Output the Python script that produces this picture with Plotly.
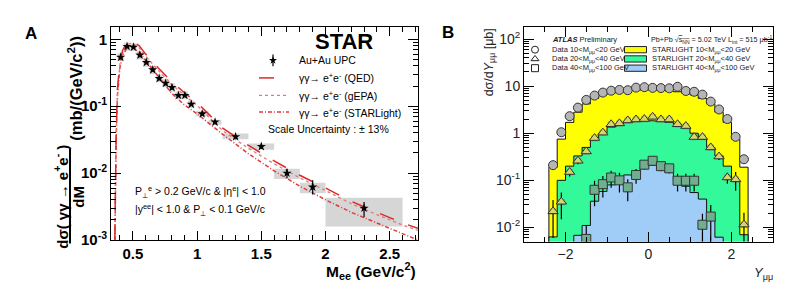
import plotly.graph_objects as go

W, H = 806, 308
FONT = "Liberation Sans, Arial, Helvetica, sans-serif"

# ---------------- Panel A data (STAR) ----------------
mee_pts = [0.405, 0.455, 0.505, 0.555, 0.605, 0.655, 0.705, 0.755, 0.805, 0.855,
           0.905, 0.955, 1.04, 1.14, 1.3, 1.5, 1.7, 1.9, 2.3]
mee_halfw = [0.025] * 12 + [0.05, 0.05, 0.1, 0.1, 0.1, 0.1, 0.3]
xsec = [0.54, 0.78, 0.76, 0.58, 0.45, 0.35, 0.26, 0.22, 0.19, 0.145,
        0.145, 0.107, 0.077, 0.058, 0.035, 0.025, 0.0100, 0.0062, 0.0030]
stat_up = [0.02, 0.03, 0.03, 0.02, 0.015, 0.012, 0.01, 0.008, 0.007, 0.006,
           0.006, 0.005, 0.004, 0.003, 0.002, 0.002, 0.0016, 0.0016, 0.0007]
stat_dn = [0.02, 0.03, 0.03, 0.02, 0.015, 0.012, 0.01, 0.008, 0.007, 0.006,
           0.006, 0.005, 0.004, 0.003, 0.002, 0.002, 0.0016, 0.0014, 0.0008]
sys_lo = [0.47, 0.68, 0.66, 0.50, 0.39, 0.30, 0.228, 0.192, 0.166, 0.127,
          0.127, 0.094, 0.071, 0.053, 0.032, 0.0224, 0.0082, 0.0050, 0.0016]
sys_hi = [0.62, 0.89, 0.87, 0.66, 0.52, 0.40, 0.30, 0.252, 0.218, 0.166,
          0.166, 0.122, 0.085, 0.063, 0.039, 0.0277, 0.0116, 0.0072, 0.0043]

m_curve = [0.36, 0.365, 0.37, 0.38, 0.39, 0.40, 0.42, 0.45, 0.48, 0.50, 0.55, 0.60,
           0.70, 0.80, 0.90, 1.0, 1.2, 1.4, 1.6, 1.8, 2.0, 2.2, 2.4, 2.6, 2.72]
qed = [0.001, 0.008, 0.04, 0.18, 0.34, 0.47, 0.68, 0.87, 0.94, 0.93, 0.80, 0.60,
       0.37, 0.235, 0.16, 0.113, 0.047, 0.026, 0.0152, 0.0093, 0.006, 0.0038,
       0.0026, 0.0018, 0.0015]
gepa = [0.001, 0.007, 0.035, 0.16, 0.31, 0.43, 0.63, 0.81, 0.87, 0.86, 0.74, 0.56,
        0.34, 0.215, 0.146, 0.103, 0.043, 0.0235, 0.0138, 0.0085, 0.0055, 0.0035,
        0.0024, 0.00168, 0.0014]
starlight = [0.001, 0.006, 0.03, 0.14, 0.27, 0.38, 0.56, 0.72, 0.77, 0.76, 0.64, 0.48,
             0.27, 0.158, 0.105, 0.077, 0.038, 0.0195, 0.0108, 0.0064, 0.0040, 0.0026,
             0.0018, 0.00125, 0.001]

# ---------------- Panel B data (ATLAS) ----------------
y_centers = [-2.3, -2.1, -1.9, -1.7, -1.5, -1.3, -1.1, -0.9, -0.7, -0.5, -0.3, -0.1,
             0.1, 0.3, 0.5, 0.7, 0.9, 1.1, 1.3, 1.5, 1.7, 1.9, 2.1, 2.3]
bin_half = 0.1
data_10_20 = [0.21, 1.05, 2.3, 3.5, 5.1, 6.3, 7.3, 8.0, 8.3, 8.2, 9.3, 9.5,
              9.2, 9.1, 9.0, 9.7, 7.9, 7.6, 6.6, 4.7, 3.2, 2.0, 0.84, 0.28]
data_20_40 = [0.022, 0.035, 0.15, 0.26, 0.41, 0.79, 1.03, 1.55, 1.62, 1.87, 1.96, 2.0,
              2.23, 1.96, 1.96, 1.55, 1.42, 0.83, 0.83, 0.50, 0.32, 0.115, 0.105, 0.0115]
err_20_40 = [0.016, 0.02, 0.03, 0.04, 0.04, 0.06, 0.07, 0.09, 0.09, 0.1, 0.1, 0.1,
             0.11, 0.1, 0.1, 0.09, 0.09, 0.07, 0.07, 0.06, 0.05, 0.03, 0.045, 0.009]
y_centers_40 = [-1.5, -1.3, -1.1, -0.9, -0.7, -0.5, -0.3, -0.1, 0.1, 0.3, 0.5, 0.7,
                0.9, 1.1, 1.3, 1.5]
data_40_100 = [0.0057, 0.063, 0.083, 0.115, 0.10, 0.071, 0.13, 0.215, 0.26, 0.20, 0.18,
               0.098, 0.098, 0.098, 0.0114, 0.017]
err_40_100 = [0.005, 0.035, 0.04, 0.045, 0.045, 0.035, 0.045, 0.045, 0.05, 0.045, 0.04,
              0.04, 0.04, 0.04, 0.008, 0.013]
sl_10_20 = [0.19, 0.75, 1.7, 2.8, 4.2, 5.5, 6.5, 7.1, 7.6, 7.9, 8.2, 8.3,
            8.3, 8.2, 7.9, 7.6, 7.1, 6.5, 5.5, 4.2, 2.8, 1.7, 0.75, 0.19]
sl_20_40 = [0.0063, 0.1, 0.2, 0.33, 0.5, 0.75, 1.0, 1.35, 1.55, 1.7, 1.8, 1.85,
            1.85, 1.8, 1.7, 1.55, 1.35, 1.0, 0.75, 0.5, 0.33, 0.2, 0.1, 0.007]
sl_40_100 = [0.0005, 0.0005, 0.0005, 0.0068, 0.011, 0.036, 0.058, 0.08, 0.1, 0.13, 0.14, 0.19,
             0.21, 0.18, 0.15, 0.1, 0.075, 0.055, 0.04, 0.015, 0.0062, 0.0005, 0.0005, 0.0005]

# ---------------- helpers ----------------
def px_x(p):
    return p / W

def px_y(p):
    return 1 - p / H

def boxes(xc, hw, lo, hi):
    xs, ys = [], []
    for c, w, a, b in zip(xc, hw, lo, hi):
        xs += [c - w, c + w, c + w, c - w, c - w, None]
        ys += [a, a, b, b, a, None]
    return xs, ys

def steps(centers, half, vals, floor=1e-4):
    xs, ys = [centers[0] - half], [floor]
    for c, v in zip(centers, vals):
        xs += [c - half, c + half]
        ys += [v, v]
    xs.append(centers[-1] + half)
    ys.append(floor)
    return xs, ys

def minor_log(lo, hi):
    out = []
    for e in range(lo, hi + 1):
        for k in range(2, 10):
            out.append(k * 10 ** e)
    return out

fig = go.Figure()

# ---- Panel A ----
bx, by = boxes(mee_pts, mee_halfw, sys_lo, sys_hi)
fig.add_trace(go.Scatter(x=bx, y=by, fill="toself", fillcolor="#d6d6d6", mode="none",
                         xaxis="x", yaxis="y", showlegend=False, hoverinfo="skip"))
RED = "#dc2a2a"
fig.add_trace(go.Scatter(x=m_curve, y=starlight, mode="lines", xaxis="x", yaxis="y",
                         line=dict(color="#e23b3b", width=1.5, dash="4px,2px,1px,2px"),
                         showlegend=False))
fig.add_trace(go.Scatter(x=m_curve, y=gepa, mode="lines", xaxis="x", yaxis="y",
                         line=dict(color="#e67777", width=1.3, dash="dot"), showlegend=False))
fig.add_trace(go.Scatter(x=m_curve, y=qed, mode="lines", xaxis="x", yaxis="y",
                         line=dict(color=RED, width=1.5, dash="longdash"), showlegend=False))
fig.add_trace(go.Scatter(x=mee_pts, y=xsec, mode="markers", xaxis="x", yaxis="y",
                         marker=dict(symbol="star", size=7, color="black"),
                         error_y=dict(type="data", array=stat_up, arrayminus=stat_dn,
                                      color="black", thickness=1.2, width=0),
                         showlegend=False))

# ---- Panel B ----
for vals, col in [(sl_10_20, "#ffff00"), (sl_20_40, "#33f99b"), (sl_40_100, "#9fcdf7")]:
    sx, sy = steps(y_centers, bin_half, vals)
    fig.add_trace(go.Scatter(x=sx, y=sy, fill="toself", fillcolor=col, mode="lines",
                             line=dict(color="#111111", width=1), xaxis="x2", yaxis="y2",
                             showlegend=False, hoverinfo="skip"))

def rel_boxes(xc, vals, frac):
    return boxes(xc, [0.08] * len(xc), [v * (1 - frac) for v in vals],
                 [v * (1 + frac) for v in vals])

for xc, vals, frac in [(y_centers, data_10_20, 0.08), (y_centers, data_20_40, 0.15),
                       (y_centers_40, data_40_100, 0.2)]:
    gx, gy = rel_boxes(xc, vals, frac)
    fig.add_trace(go.Scatter(x=gx, y=gy, fill="toself", fillcolor="rgba(120,120,120,0.45)",
                             mode="none", xaxis="x2", yaxis="y2", showlegend=False,
                             hoverinfo="skip"))

fig.add_trace(go.Scatter(x=y_centers, y=data_10_20, mode="markers", xaxis="x2", yaxis="y2",
                         marker=dict(symbol="circle", size=9, color="#b5b5b5",
                                     line=dict(color="#333333", width=1)),
                         error_y=dict(type="percent", value=3, color="black", width=0,
                                      thickness=1.2),
                         showlegend=False))
fig.add_trace(go.Scatter(x=y_centers, y=data_20_40, mode="markers", xaxis="x2", yaxis="y2",
                         marker=dict(symbol="triangle-up", size=9, color="#d6d66a",
                                     line=dict(color="#333333", width=1)),
                         error_y=dict(type="data", array=err_20_40, color="black", width=0,
                                      thickness=1.2),
                         showlegend=False))
fig.add_trace(go.Scatter(x=y_centers_40, y=data_40_100, mode="markers", xaxis="x2", yaxis="y2",
                         marker=dict(symbol="square", size=9, color="#6fae8f",
                                     line=dict(color="#333333", width=1)),
                         error_y=dict(type="data", array=err_40_100, color="black", width=0,
                                      thickness=1.2),
                         showlegend=False))

# ---- Legend decorations on a pixel-space overlay axis ----
def leg_line(x0, x1, y, color, dash, width=1.5):
    fig.add_trace(go.Scatter(x=[x0, x1], y=[y, y], mode="lines", xaxis="x3", yaxis="y3",
                             line=dict(color=color, width=width, dash=dash),
                             showlegend=False, hoverinfo="skip"))

fig.add_trace(go.Scatter(x=[273], y=[62], mode="markers", xaxis="x3", yaxis="y3",
                         marker=dict(symbol="star", size=6, color="black"),
                         error_y=dict(type="constant", value=6, color="black", width=0,
                                      thickness=1.2), showlegend=False))
leg_line(259, 289, 80, RED, "longdash")
leg_line(259, 289, 98, "#e67777", "dot", 1.3)
leg_line(259, 289, 115, "#e23b3b", "4px,2px,1px,2px")

for sym, yy in [("circle-open", 51), ("triangle-up-open", 60.5), ("square-open", 70)]:
    fig.add_trace(go.Scatter(x=[535], y=[yy], mode="markers", xaxis="x3", yaxis="y3",
                             marker=dict(symbol=sym, size=7, color="#222222",
                                         line=dict(width=1)),
                             showlegend=False, hoverinfo="skip"))
for col, yy in [("#ffff00", 51), ("#33f99b", 60.5), ("#9fcdf7", 70)]:
    fig.add_trace(go.Scatter(x=[624.5, 646.5, 646.5, 624.5, 624.5],
                             y=[yy - 3.2, yy - 3.2, yy + 3.2, yy + 3.2, yy - 3.2],
                             fill="toself", fillcolor=col, mode="lines",
                             line=dict(color="#222222", width=1), xaxis="x3", yaxis="y3",
                             showlegend=False, hoverinfo="skip"))

ann = []

def A(x, y, text, size, xanchor="left", yanchor="middle", angle=0, color="black",
      weight="normal", family=FONT):
    ann.append(dict(x=px_x(x), y=px_y(y), xref="paper", yref="paper", text=text,
                    showarrow=False, xanchor=xanchor, yanchor=yanchor, textangle=angle,
                    font=dict(family=family, size=size, color=color, weight=weight)))

# Panel A texts
A(31, 34, "A", 17, xanchor="center", weight="bold")
A(344, 43, "STAR", 22, xanchor="center", weight="bold")
A(297, 62, "Au+Au UPC", 10.5)
A(297, 80, "γγ→ e<sup>+</sup>e<sup>-</sup> (QED)", 10.5)
A(297, 98, "γγ→ e<sup>+</sup>e<sup>-</sup> (gEPA)", 10.5)
A(297, 115, "γγ→ e<sup>+</sup>e<sup>-</sup> (STARLight)", 10.5)
A(266, 132, "Scale Uncertainty : ± 13%", 10.5)
A(133, 197, "P<sub>⊥</sub><sup>e</sup> > 0.2 GeV/c & |η<sup>e</sup>| < 1.0", 10.5)
A(133, 216, "|y<sup>ee</sup>| < 1.0 & P<sub>⊥</sub> < 0.1 GeV/c", 10.5)
A(418, 278, "M<sub>ee</sub> (GeV/c<sup>2</sup>)", 15.5, xanchor="right", weight="bold")
A(61, 202, "dσ( γγ → e<sup>+</sup>e<sup>-</sup> )", 15, xanchor="center", angle=-90,
  weight="bold")
A(79, 202, "dM", 15, xanchor="center", angle=-90, weight="bold")
A(75, 91, "(mb/(GeV/c<sup>2</sup>))", 16.5, xanchor="center", angle=-90, weight="bold")

# Panel B texts
A(448, 33, "B", 17, xanchor="center", weight="bold")
A(550, 41, "<b><i>ATLAS</i></b> Preliminary", 7.5, color="#222222")
A(649, 41, "Pb+Pb √<span style='text-decoration:overline'>s<sub>NN</sub></span> = 5.02 TeV L<sub>int</sub> = 515 μb<sup>-1</sup>",
  7.2, color="#222222")
A(550, 51, "Data 10<M<sub>μμ</sub><20 GeV", 7.5, color="#222222")
A(550, 60.5, "Data 20<M<sub>μμ</sub><40 GeV", 7.5, color="#222222")
A(550, 70, "Data 40<M<sub>μμ</sub><100 GeV", 7.5, color="#222222")
A(650, 51, "STARLIGHT 10<M<sub>μμ</sub><20 GeV", 7.5, color="#222222")
A(650, 60.5, "STARLIGHT 20<M<sub>μμ</sub><40 GeV", 7.5, color="#222222")
A(650, 70, "STARLIGHT 40<M<sub>μμ</sub><100 GeV", 7.5, color="#222222")
A(490, 64, "dσ/d<i>Y</i><sub>μμ</sub> [μb]", 12.5, xanchor="center", angle=-90,
  color="#222222")
A(763, 281, "<i>Y</i><sub>μμ</sub>", 13, xanchor="center", color="#222222")

shapes = [dict(type="line", xref="paper", yref="paper", x0=px_x(70), x1=px_x(70),
               y0=px_y(153), y1=px_y(250), line=dict(color="black", width=2))]

axis_common = dict(showline=True, linecolor="black", linewidth=1, mirror="ticks",
                   ticks="inside", showgrid=False, zeroline=False, tickcolor="black")

fig.update_layout(
    width=W, height=H, margin=dict(l=0, r=0, t=0, b=0),
    paper_bgcolor="white", plot_bgcolor="rgba(0,0,0,0)",
    font=dict(family=FONT, color="black"),
    showlegend=False,
    annotations=ann, shapes=shapes,
    xaxis=dict(domain=[px_x(111), px_x(418)], range=[0.33, 2.72], **axis_common,
               tickvals=[0.5, 1, 1.5, 2, 2.5], ticktext=["0.5", "1", "1.5", "2", "2.5"],
               ticklen=9, tickfont=dict(size=15, weight="bold"),
               minor=dict(tickvals=[0.4, 0.6, 0.7, 0.8, 0.9, 1.1, 1.2, 1.3, 1.4, 1.6, 1.7,
                                    1.8, 1.9, 2.1, 2.2, 2.3, 2.4, 2.6, 2.7],
                          ticklen=5, ticks="inside", tickcolor="black"),
               anchor="y"),
    yaxis=dict(domain=[px_y(246.5), px_y(28)], type="log", range=[-3, 0.179], **axis_common,
               tickvals=[0.001, 0.01, 0.1, 1],
               ticktext=["10<sup>-3</sup>", "10<sup>-2</sup>", "10<sup>-1</sup>", "1"],
               ticklen=10, tickfont=dict(size=15, weight="bold"),
               minor=dict(tickvals=minor_log(-3, -1), ticklen=5, ticks="inside",
                          tickcolor="black"),
               anchor="x"),
    xaxis2=dict(domain=[px_x(524), px_x(773)], range=[-3, 3], **axis_common,
                tickvals=[-2, 0, 2], ticklen=10, tickfont=dict(size=14, color="#222222"),
                minor=dict(tickvals=[-2.5, -1.5, -1, -0.5, 0.5, 1, 1.5, 2.5], ticklen=5,
                           ticks="inside", tickcolor="black"),
                anchor="y2"),
    yaxis2=dict(domain=[px_y(248), px_y(28)], type="log", range=[-2.30, 2.25], **axis_common,
                tickvals=[0.01, 0.1, 1, 10, 100],
                ticktext=["10<sup>-2</sup>", "10<sup>-1</sup>", "1", "10", "10<sup>2</sup>"],
                ticklen=10, tickfont=dict(size=14, color="#222222"),
                minor=dict(tickvals=minor_log(-3, 2), ticklen=5, ticks="inside",
                           tickcolor="black"),
                anchor="x2"),
    xaxis3=dict(domain=[0, 1], range=[0, W], visible=False, anchor="y3"),
    yaxis3=dict(domain=[0, 1], range=[H, 0], visible=False, anchor="x3"),
)

fig.write_html("out.html", config={"displayModeBar": False},
               post_script="document.body.style.margin='0';document.body.style.overflow='hidden';")
